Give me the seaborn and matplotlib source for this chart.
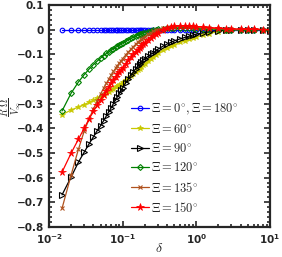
import numpy as np
import pandas as pd
import matplotlib
matplotlib.use('Agg')
import matplotlib.pyplot as plt
import seaborn as sns
from matplotlib.ticker import MultipleLocator, LogLocator, NullFormatter

sns.set_style('ticks')
plt.rcParams['mathtext.fontset'] = 'cm'
plt.rcParams['font.family'] = ['DejaVu Sans']

# delta grid
delta = [0.015, 0.02, 0.025, 0.03, 0.035, 0.04, 0.045, 0.05, 0.055, 0.06,
         0.065, 0.07, 0.075, 0.08, 0.085, 0.09, 0.095, 0.1,
         0.11, 0.12, 0.13, 0.14, 0.15, 0.16, 0.17, 0.18, 0.19, 0.2,
         0.22, 0.24, 0.26, 0.28, 0.3, 0.35, 0.4, 0.45, 0.5,
         0.6, 0.7, 0.8, 0.9, 1.0, 1.25, 1.5, 2, 2.5, 3, 4, 5, 6, 8, 10]

xi_0_180 = [0.0] * 52
xi_60 = [-0.345, -0.326, -0.314, -0.304, -0.295, -0.287, -0.279, -0.272, -0.265, -0.258,
         -0.252, -0.246, -0.240, -0.234, -0.229, -0.224, -0.219, -0.214,
         -0.205, -0.196, -0.188, -0.180, -0.172, -0.165, -0.158, -0.151, -0.145, -0.139,
         -0.128, -0.118, -0.110, -0.102, -0.096, -0.084, -0.075, -0.068, -0.062,
         -0.052, -0.045, -0.039, -0.034, -0.030, -0.022, -0.016, -0.008, -0.004, -0.002, -0.001, 0.0, 0.0, 0.0, 0.0]
xi_90 = [-0.670, -0.597, -0.538, -0.497, -0.463, -0.435, -0.410, -0.390, -0.370, -0.350,
         -0.333, -0.316, -0.300, -0.285, -0.272, -0.259, -0.247, -0.236,
         -0.216, -0.199, -0.184, -0.171, -0.159, -0.149, -0.140, -0.131, -0.124, -0.118,
         -0.109, -0.101, -0.094, -0.087, -0.080, -0.068, -0.059, -0.052, -0.046,
         -0.038, -0.032, -0.027, -0.022, -0.019, -0.013, -0.009, -0.004, -0.002, -0.001, 0.0, 0.0, 0.0, 0.0, 0.0]
xi_120 = [-0.330, -0.257, -0.213, -0.183, -0.160, -0.142, -0.128, -0.116, -0.106, -0.097,
          -0.090, -0.083, -0.077, -0.072, -0.067, -0.062, -0.058, -0.054,
          -0.047, -0.041, -0.036, -0.031, -0.027, -0.023, -0.020, -0.017, -0.014, -0.012,
          -0.008, -0.005, -0.002, 0.0, 0.001, 0.003, 0.005, 0.006, 0.006,
          0.006, 0.006, 0.005, 0.005, 0.004, 0.003, 0.002, 0.001, 0.0, 0.0, 0.0, 0.0, 0.0, 0.0, 0.0]
xi_135 = [-0.725, -0.588, -0.486, -0.412, -0.362, -0.322, -0.290, -0.262, -0.238, -0.218,
          -0.200, -0.184, -0.170, -0.157, -0.146, -0.136, -0.127, -0.118,
          -0.103, -0.090, -0.079, -0.069, -0.060, -0.052, -0.045, -0.039, -0.034, -0.029,
          -0.020, -0.013, -0.007, -0.003, 0.0, 0.005, 0.008, 0.010, 0.011,
          0.011, 0.011, 0.010, 0.009, 0.008, 0.006, 0.005, 0.003, 0.002, 0.001, 0.0, 0.0, 0.0, 0.0, 0.0]
xi_150 = [-0.578, -0.500, -0.445, -0.400, -0.362, -0.332, -0.307, -0.285, -0.265, -0.248,
          -0.232, -0.218, -0.205, -0.193, -0.182, -0.172, -0.163, -0.154,
          -0.138, -0.124, -0.112, -0.101, -0.091, -0.082, -0.074, -0.067, -0.060, -0.054,
          -0.043, -0.033, -0.025, -0.018, -0.012, -0.002, 0.005, 0.010, 0.013,
          0.015, 0.015, 0.014, 0.013, 0.012, 0.010, 0.008, 0.005, 0.004, 0.003, 0.002, 0.001, 0.001, 0.0, 0.0]

labels = [r'$\Xi = 0^{\circ}, \Xi = 180^{\circ}$', r'$\Xi = 60^{\circ}$', r'$\Xi = 90^{\circ}$',
          r'$\Xi = 120^{\circ}$', r'$\Xi = 135^{\circ}$', r'$\Xi = 150^{\circ}$']
series = [xi_0_180, xi_60, xi_90, xi_120, xi_135, xi_150]

styles = [
    dict(color='#0000ff', marker='o', mfc='none', ms=3.3, mew=0.8),
    dict(color='#c8c800', marker='*', mfc='#c8c800', ms=4, mew=0.5),
    dict(color='#000000', marker='>', mfc='none', ms=3.8, mew=0.8),
    dict(color='#008000', marker='D', mfc='none', ms=3, mew=0.8),
    dict(color='#b0521e', marker='x', mfc='none', ms=3, mew=0.8),
    dict(color='#ff0000', marker='*', mfc='#ff0000', ms=5.5, mew=0.5),
]

df = pd.concat([pd.DataFrame({'delta': delta, 'val': s, 'case': lab})
                for s, lab in zip(series, labels)], ignore_index=True)

fig = plt.figure(figsize=(2.82, 2.57), dpi=100)
ax = fig.add_axes([0.174, 0.117, 0.783, 0.864])

for lab, st in zip(labels, styles):
    sub = df[df['case'] == lab]
    sns.lineplot(data=sub, x='delta', y='val', ax=ax, estimator=None, sort=False,
                 color=st['color'], marker=st['marker'], markerfacecolor=st['mfc'],
                 markeredgecolor=st['color'], markersize=st['ms'], markeredgewidth=st['mew'],
                 linewidth=0.9, label=lab)

ax.set_xscale('log')
ax.set_xlim(0.01, 10)
ax.set_ylim(-0.8, 0.1)
ax.yaxis.set_major_locator(MultipleLocator(0.1))
ax.yaxis.set_minor_locator(MultipleLocator(0.02))
ax.xaxis.set_minor_locator(LogLocator(base=10, subs=np.arange(2, 10)))
ax.xaxis.set_minor_formatter(NullFormatter())
ax.set_yticklabels([('%g' % v).replace('-', '\u2212') for v in ax.get_yticks()])

ax.tick_params(which='both', direction='in', top=True, right=True, width=1.2)
ax.tick_params(which='major', length=4, labelsize=7.5)
ax.tick_params(axis='y', which='major', pad=3.5)
ax.tick_params(axis='x', which='major', pad=4)
ax.tick_params(which='minor', length=2)
for lbl in ax.get_xticklabels() + ax.get_yticklabels():
    lbl.set_fontweight('bold')
for sp in ax.spines.values():
    sp.set_linewidth(1.6)

ax.set_xlabel(r'$\delta$', fontsize=10)
ax.xaxis.set_label_coords(0.5, -0.065)
ax.set_ylabel('')
# y label placed as a figure text so its box stays inside the canvas
fig.text(11 / 282, 1 - 107 / 257, r'$\dfrac{R\ \Omega}{V_\infty}$', fontsize=7.2,
         rotation=90, ha='center', va='center')

ax.legend(loc='upper left', bbox_to_anchor=(0.33, 0.605), frameon=False, fontsize=9,
          handlelength=1.5, handletextpad=0.15, labelspacing=0.5, borderpad=0.2)

fig.savefig('out.png', dpi=100)
